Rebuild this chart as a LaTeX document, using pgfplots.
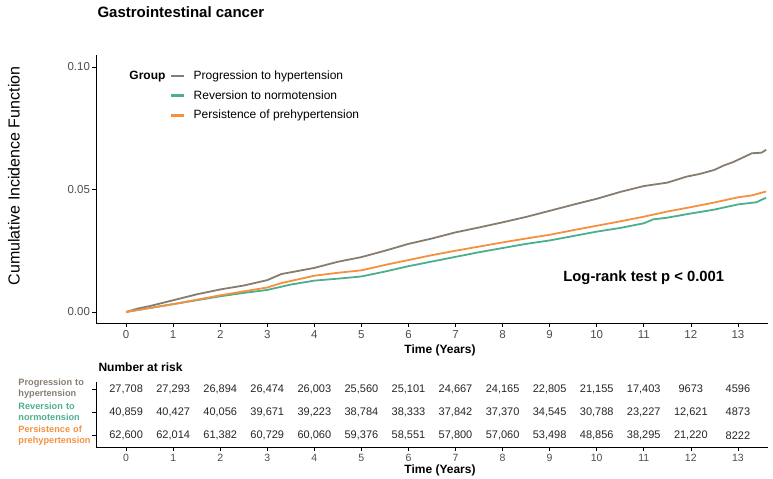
\documentclass[border=0pt]{standalone}
\usepackage{fontspec}
\setmainfont{Liberation Sans}
\usepackage{pgfplots}
\pgfplotsset{compat=1.18}
\usepackage{pgfplotstable}

\definecolor{cprog}{HTML}{857D70}
\definecolor{crev}{HTML}{4BAF8F}
\definecolor{cpers}{HTML}{F4913F}
\definecolor{ticktxt}{HTML}{4D4D4D}

% cumulative incidence curves (years, CIF)
\pgfplotstableread{
t      cif
0      0
0.25   0.0014
0.5    0.0024
1      0.0048
1.5    0.0072
2      0.0092
2.5    0.0108
3      0.0130
3.3    0.0155
3.5    0.0162
4      0.0180
4.5    0.0205
5      0.0224
5.5    0.0250
6      0.0278
6.5    0.0300
7      0.0325
7.5    0.0345
8      0.0366
8.5    0.0388
9      0.0413
9.5    0.0438
10     0.0462
10.5   0.0490
11     0.0514
11.5   0.0528
11.9   0.0552
12.2   0.0564
12.5   0.0580
12.7   0.0598
12.9   0.0612
13.1   0.0630
13.3   0.0648
13.5   0.0650
13.6   0.0662
}\progdata

\pgfplotstableread{
t      cif
0      0
0.5    0.0016
1      0.0032
1.5    0.0050
2      0.0068
2.5    0.0084
3      0.0100
3.3    0.0118
4      0.0148
4.5    0.0160
5      0.0170
5.5    0.0192
6      0.0212
6.5    0.0232
7      0.0250
7.5    0.0267
8      0.0284
8.5    0.0300
9      0.0315
9.5    0.0334
10     0.0352
10.5   0.0370
11     0.0389
11.5   0.0410
12     0.0428
12.5   0.0447
13     0.0468
13.3   0.0476
13.6   0.0492
}\persdata

\pgfplotstableread{
t      cif
0      0
0.5    0.0016
1      0.0032
1.5    0.0048
2      0.0064
2.5    0.0078
3      0.0090
3.5    0.0112
4      0.0128
4.5    0.0136
5      0.0145
5.5    0.0165
6      0.0187
6.5    0.0206
7      0.0225
7.5    0.0244
8      0.0261
8.5    0.0278
9      0.0292
9.5    0.0310
10     0.0328
10.5   0.0343
11     0.0362
11.2   0.0378
11.5   0.0385
12     0.0402
12.5   0.0418
13     0.0439
13.4   0.0448
13.5   0.0458
13.6   0.0466
}\revdata

% number at risk (row 3 = progression, 2 = reversion, 1 = persistence)
\pgfplotstableread{
x  y  n
0  3  27,708
1  3  27,293
2  3  26,894
3  3  26,474
4  3  26,003
5  3  25,560
6  3  25,101
7  3  24,667
8  3  24,165
9  3  22,805
10 3  21,155
11 3  17,403
12 3  9673
13 3  4596
0  2  40,859
1  2  40,427
2  2  40,056
3  2  39,671
4  2  39,223
5  2  38,784
6  2  38,333
7  2  37,842
8  2  37,370
9  2  34,545
10 2  30,788
11 2  23,227
12 2  12,621
13 2  4873
0  1  62,600
1  1  62,014
2  1  61,382
3  1  60,729
4  1  60,060
5  1  59,376
6  1  58,551
7  1  57,800
8  1  57,060
9  1  53,498
10 1  48,856
11 1  38,295
12 1  21,220
13 1  8222
}\riskdata

\begin{document}
\begin{tikzpicture}[x=1bp,y=1bp]
\path (0,0) rectangle (773,-479);

\begin{axis}[
  name=main,
  at={(96bp,-323bp)}, anchor=south west,
  scale only axis, width=672bp, height=268bp,
  xmin=-0.64, xmax=13.64, ymin=-0.0045, ymax=0.1049,
  axis x line*=bottom, axis y line*=left,
  axis line style={-, line width=0.8bp, black},
  xtick={0,...,13}, ytick={0,0.05,0.1},
  yticklabels={0.00,0.05,0.10},
  tick align=outside, major tick length=4bp,
  tick style={black, line width=0.6bp},
  /pgf/number format/assume math mode=true,
  ticklabel style={font=\fontsize{11.5bp}{13bp}\selectfont, text=ticktxt},
  yticklabel style={xshift=1.5bp},
  legend cell align=left,
  legend image code/.code={\draw[line width=2.6bp] (0bp,0bp) -- (13bp,0bp);},
  legend style={draw=none, fill=none, at={(0.110,0.949)}, anchor=north west,
    font=\fontsize{12bp}{14bp}\selectfont, row sep=5.5bp, inner sep=0pt,
    nodes={inner sep=2bp},
    /tikz/every odd column/.append style={column sep=6bp}},
]
\addplot[cprog, line width=1.8bp] table[x=t, y=cif] {\progdata};
\addplot[crev, line width=1.8bp] table[x=t, y=cif] {\revdata};
\addplot[cpers, line width=1.8bp] table[x=t, y=cif] {\persdata};
\legend{Progression to hypertension, Reversion to normotension, Persistence of prehypertension}
\node[font=\bfseries\fontsize{14.8bp}{17bp}\selectfont] at (axis cs:11,0.0139) {Log-rank test p < 0.001};
\end{axis}

\begin{axis}[
  name=risk,
  at={(96bp,-447bp)}, anchor=south west,
  scale only axis, width=672bp, height=65bp,
  xmin=-0.64, xmax=13.64, ymin=0.5, ymax=3.3,
  axis x line*=bottom, axis y line*=left,
  axis line style={-, line width=0.8bp, black},
  xtick={0,...,13}, ytick={1,2,3},
  yticklabels={{\textcolor{cpers}{Persistence of\\prehypertension}},
               {\textcolor{crev}{Reversion to\\normotension}},
               {\textcolor{cprog}{Progression to\\hypertension}}},
  tick align=outside, major tick length=4bp,
  tick style={black, line width=0.6bp},
  /pgf/number format/assume math mode=true,
  xticklabel style={font=\fontsize{10.5bp}{12bp}\selectfont, text=ticktxt},
  yticklabel style={font=\bfseries\fontsize{9.2bp}{11bp}\selectfont, align=left, text width=70bp, anchor=east},
]
\addplot[draw=none, mark=none, nodes near coords, point meta=explicit symbolic,
  nodes near coords align=center,
  nodes near coords style={font=\fontsize{11bp}{12bp}\selectfont, text=black!85}]
  table[x=x, y=y, meta=n] {\riskdata};
\end{axis}

\node[anchor=west, font=\bfseries\fontsize{15bp}{18bp}\selectfont] at (94,-12) {Gastrointestinal cancer};
\node[rotate=90, font=\fontsize{16bp}{18bp}\selectfont] at (14,-176) {Cumulative Incidence Function};
\node[anchor=east, font=\bfseries\fontsize{12bp}{14bp}\selectfont] at (169,-77) {Group};
\node[font=\bfseries\fontsize{12bp}{14bp}\selectfont] at (440,-350) {Time (Years)};
\node[anchor=west, font=\bfseries\fontsize{12bp}{14bp}\selectfont] at (95,-367) {Number at risk};
\node[font=\bfseries\fontsize{12bp}{14bp}\selectfont] at (440,-470) {Time (Years)};
\end{tikzpicture}
\end{document}
